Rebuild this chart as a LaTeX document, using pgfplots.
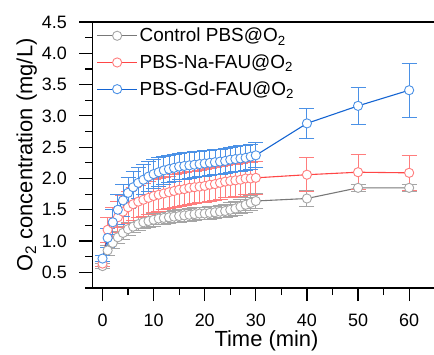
\documentclass[border=0pt]{standalone}
\usepackage{fontspec}
\setmainfont{Liberation Sans}
\usepackage{pgfplots}
\usepackage{pgfplotstable}
\pgfplotsset{compat=1.18}
\definecolor{grayline}{RGB}{120,120,120}
\definecolor{graymk}{RGB}{165,165,165}
\definecolor{redline}{RGB}{255,70,70}
\definecolor{redmk}{RGB}{255,125,125}
\definecolor{blueline}{RGB}{20,100,210}
\definecolor{bluemk}{RGB}{75,145,230}
\pgfplotstableread{
t y e
0 0.60 0.04
1 0.85 0.08
2 0.97 0.09
3 1.06 0.10
4 1.13 0.10
5 1.19 0.10
6 1.23 0.10
7 1.27 0.10
8 1.30 0.10
9 1.32 0.10
10 1.34 0.10
11 1.36 0.10
12 1.37 0.10
13 1.38 0.10
14 1.39 0.10
15 1.40 0.10
16 1.41 0.10
17 1.42 0.10
18 1.43 0.10
19 1.44 0.10
20 1.44 0.10
21 1.45 0.10
22 1.46 0.10
23 1.47 0.10
24 1.48 0.11
25 1.50 0.11
26 1.52 0.11
27 1.55 0.11
28 1.58 0.12
29 1.61 0.12
30 1.64 0.12
40 1.68 0.13
50 1.85 0.06
60 1.85 0.05
}\ctrl
\pgfplotstableread{
t y e
0 0.64 0.04
1 1.18 0.20
2 1.28 0.25
3 1.38 0.25
4 1.47 0.26
5 1.54 0.26
6 1.59 0.26
7 1.63 0.26
8 1.66 0.26
9 1.69 0.26
10 1.72 0.26
11 1.74 0.26
12 1.76 0.26
13 1.78 0.26
14 1.80 0.26
15 1.82 0.26
16 1.83 0.26
17 1.85 0.26
18 1.86 0.26
19 1.87 0.26
20 1.88 0.26
21 1.90 0.26
22 1.91 0.26
23 1.93 0.26
24 1.95 0.26
25 1.96 0.26
26 1.97 0.26
27 1.98 0.26
28 2.00 0.26
29 2.00 0.26
30 2.01 0.26
40 2.06 0.27
50 2.10 0.28
60 2.09 0.28
}\na
\pgfplotstableread{
t y e
0 0.72 0.05
1 1.05 0.15
2 1.30 0.20
3 1.50 0.24
4 1.65 0.25
5 1.77 0.25
6 1.86 0.25
7 1.93 0.25
8 1.98 0.24
9 2.03 0.24
10 2.07 0.23
11 2.10 0.23
12 2.13 0.22
13 2.15 0.22
14 2.17 0.22
15 2.19 0.21
16 2.20 0.21
17 2.21 0.21
18 2.22 0.21
19 2.23 0.20
20 2.24 0.20
21 2.25 0.20
22 2.26 0.20
23 2.27 0.20
24 2.28 0.20
25 2.30 0.20
26 2.31 0.20
27 2.32 0.20
28 2.33 0.20
29 2.35 0.20
30 2.37 0.20
40 2.88 0.24
50 3.16 0.29
60 3.41 0.43
}\gd
\begin{document}
\begin{tikzpicture}
\path[use as bounding box] (-92.3bp,-67bp) rectangle (341.7bp,288bp);
\begin{axis}[
  at={(0,0)}, anchor=south west,
  scale only axis, width=342.4bp, height=266bp,
  xmin=-2, xmax=65, ymin=0.25, ymax=4.5,
  xtick={0,10,...,60}, minor xtick={5,15,...,55},
  ytick={0.5,1,...,4.5}, minor ytick={0.25,0.75,...,4.25},
  tick pos=left, tick align=outside,
  major tick length=13bp, minor tick length=7bp,
  every tick/.style={black, line width=1.2pt},
  axis line style={line width=1.3pt},
  /pgf/number format/assume math mode=true,
  yticklabel style={/pgf/number format/fixed, /pgf/number format/fixed zerofill, /pgf/number format/precision=1, xshift=-9bp},
  xticklabel style={yshift=-9bp},
  ticklabel style={font=\fontsize{18}{20}\selectfont},
  label style={font=\fontsize{22}{24}\selectfont},
  xlabel={Time (min)}, ylabel={O\textsubscript{2} concentration (mg/L)},
  xlabel style={at={(axis description cs:0.5,0)}, anchor=base, yshift=-58bp, xshift=3bp},
  ylabel shift=-2bp,
  legend style={draw=none, fill=none, at={(0.012,0.985)}, anchor=north west,
    font=\fontsize{19}{22}\selectfont, row sep=7.5bp, inner sep=0pt},
  legend cell align=left,
  legend image code/.code={\draw[mark repeat=2,mark phase=2] plot coordinates {(0bp,0bp)(20bp,0bp)(40bp,0bp)};},
  error bars/y dir=both, error bars/y explicit,
]
\addplot[grayline, line width=1.1pt, mark=*, mark size=4.6bp,
  mark options={fill=white, draw=graymk, line width=0.9pt},
  error bars/error bar style={graymk, line width=0.9pt},
  error bars/error mark options={graymk, line width=0.9pt, rotate=90, mark size=7.5bp}]
  table[x=t, y=y, y error=e]{\ctrl};
\addlegendentry{Control PBS@O\textsubscript{2}}
\addplot[redline, line width=1.1pt, mark=*, mark size=4.6bp,
  mark options={fill=white, draw=redmk, line width=0.9pt},
  error bars/error bar style={redmk, line width=0.9pt},
  error bars/error mark options={redmk, line width=0.9pt, rotate=90, mark size=7.5bp}]
  table[x=t, y=y, y error=e]{\na};
\addlegendentry{PBS-Na-FAU@O\textsubscript{2}}
\addplot[blueline, line width=1.1pt, mark=*, mark size=4.6bp,
  mark options={fill=white, draw=bluemk, line width=0.9pt},
  error bars/error bar style={bluemk, line width=0.9pt},
  error bars/error mark options={bluemk, line width=0.9pt, rotate=90, mark size=7.5bp}]
  table[x=t, y=y, y error=e]{\gd};
\addlegendentry{PBS-Gd-FAU@O\textsubscript{2}}
\end{axis}
\end{tikzpicture}
\end{document}
